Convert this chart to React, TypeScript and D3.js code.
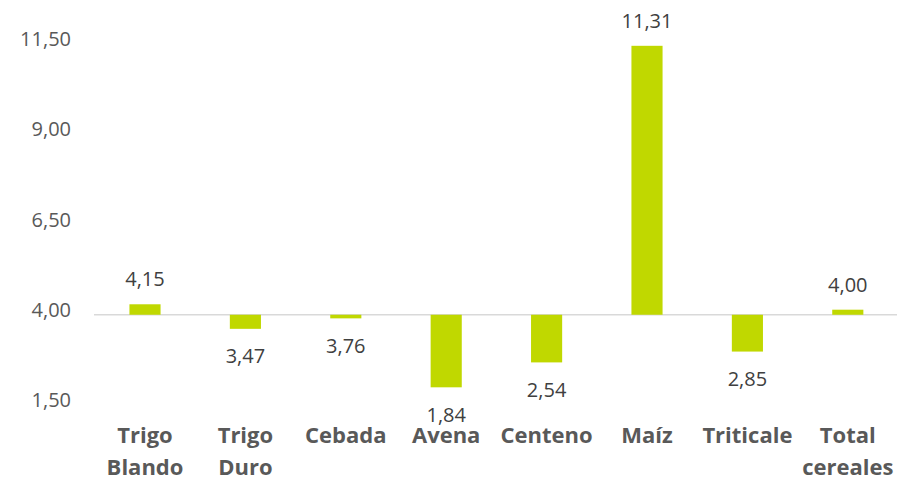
import React, { useEffect, useRef } from 'react'
import * as d3 from 'd3'

// categories (two-line labels split by \n)
const categories = [
    'Trigo\nBlando',
    'Trigo\nDuro',
    'Cebada',
    'Avena',
    'Centeno',
    'Maíz',
    'Triticale',
    'Total\ncereales',
]

// bar ends (baseline at 4,00)
const barValues = [4.29, 3.61, 3.9, 1.99, 2.68, 11.45, 2.98, 4.14]

// data label text as printed on the chart
const dataLabels = ['4,15', '3,47', '3,76', '1,84', '2,54', '11,31', '2,85', '4,00']

const yTicks = [1.5, 4, 6.5, 9, 11.5]
const baseline = 4

export default function App() {
    const svgRef = useRef(null)

    const width = 897
    const height = 481

    useEffect(() => {
        const svg = d3.select(svgRef.current)
        svg.selectAll('*').remove()

        const x = d3
            .scaleBand()
            .domain(categories)
            .range([94.8, 898])
            .paddingInner(0.69)
            .paddingOuter(0.345)

        const y = d3.scaleLinear().domain([1.5, 11.5]).range([405, 44])

        const font = "'Open Sans', sans-serif"

        // y tick labels
        svg.append('g')
            .selectAll('text')
            .data(yTicks)
            .enter()
            .append('text')
            .attr('x', 71)
            .attr('y', (d) => y(d))
            .attr('dy', '0.1em')
            .attr('text-anchor', 'end')
            .attr('font-family', font)
            .attr('font-size', 20)
            .attr('fill', '#595959')
            .text((d) => d3.format('.2f')(d).replace('.', ','))

        // baseline
        svg.append('line')
            .attr('x1', 94)
            .attr('x2', width)
            .attr('y1', y(baseline))
            .attr('y2', y(baseline))
            .attr('stroke', '#d9d9d9')
            .attr('stroke-width', 1.5)

        // bars
        svg.append('g')
            .selectAll('rect')
            .data(barValues)
            .enter()
            .append('rect')
            .attr('x', (d, i) => x(categories[i]))
            .attr('width', x.bandwidth())
            .attr('y', (d) => Math.min(y(d), y(baseline)))
            .attr('height', (d) => Math.abs(y(d) - y(baseline)))
            .attr('fill', '#c0d800')

        // data labels
        svg.append('g')
            .selectAll('text')
            .data(barValues)
            .enter()
            .append('text')
            .attr('x', (d, i) => x(categories[i]) + x.bandwidth() / 2)
            .attr('y', (d) => (d >= baseline ? y(d) - 18 : y(d) + 34.5))
            .attr('text-anchor', 'middle')
            .attr('font-family', font)
            .attr('font-size', 20)
            .attr('fill', '#404040')
            .text((d, i) => dataLabels[i])

        // category labels
        const cat = svg
            .append('g')
            .selectAll('text')
            .data(categories)
            .enter()
            .append('text')
            .attr('x', (d) => x(d) + x.bandwidth() / 2)
            .attr('y', 443)
            .attr('text-anchor', 'middle')
            .attr('font-family', font)
            .attr('font-size', 22)
            .attr('font-weight', 'bold')
            .attr('fill', '#595959')

        cat.selectAll('tspan')
            .data((d) => d.split('\n'))
            .enter()
            .append('tspan')
            .attr('x', function () {
                return this.parentNode.getAttribute('x')
            })
            .attr('dy', (d, i) => (i === 0 ? 0 : 32))
            .text((d) => d)
    }, [])

    return (
        <svg
            ref={svgRef}
            width={width}
            height={height}
            style={{ position: 'absolute', left: 0, top: 0, background: '#fff' }}
        />
    )
}
